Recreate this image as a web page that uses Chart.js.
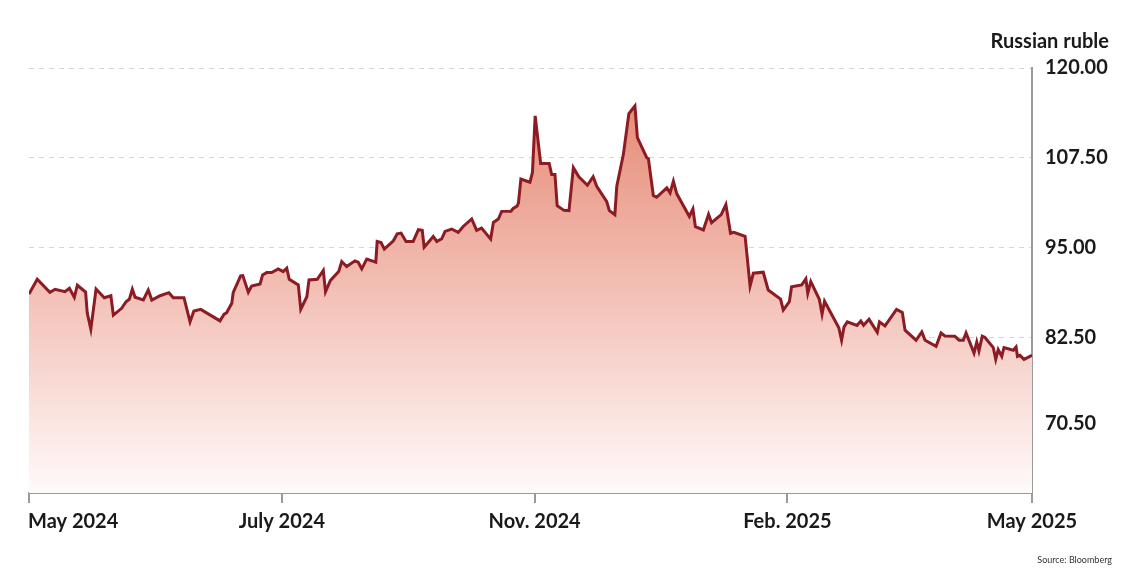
<!DOCTYPE html>
<html>
<head>
<meta charset="utf-8">
<script src="https://cdn.jsdelivr.net/npm/chart.js@4"></script>
<style>
  html, body { margin: 0; padding: 0; background: #ffffff; }
  #wrap { width: 1140px; height: 576px; position: relative; }
</style>
</head>
<body>
<div id="wrap"><canvas id="c" width="1140" height="576"></canvas></div>
<script>
// Days since 1 May 2024
const days = [0, 3.0, 7.6, 9.5, 13.1, 14.7, 16.5, 17.6, 20.6, 21.2, 22.5, 24.4, 27.4, 29.8, 30.7, 33.7, 35.3, 36.5, 37.6, 38.6,
  41.6, 43.4, 44.7, 47.7, 50.9, 52.5, 56.4, 58.6, 60.0, 62.5, 69.5, 71.0, 71.9, 73.8, 74.3, 77.0, 77.8, 79.8, 81.0, 84.1,
  85.0, 86.5, 88.3, 90.7, 92.5, 93.8, 94.7, 98.0, 98.9, 101.1, 101.9, 104.9, 107.1, 107.9, 109.7, 112.7, 113.8, 115.6, 118.6, 119.8,
  121.1, 122.9, 126.2, 126.7, 128.1, 129.3, 132.6, 134.0, 135.4, 137.2, 139.8, 141.7, 143.1, 143.8, 145.9, 147.1, 148.4, 150.2, 151.4, 153.8,
  156.2, 158.0, 161.1, 162.9, 164.7, 168.0, 169.0, 170.8, 172.0, 175.4, 176.2, 177.6, 178.1, 179.0, 182.3, 183.2, 184.2, 186.2, 189.3, 190.2,
  191.4, 192.2, 194.7, 196.5, 198.1, 200.1, 203.2, 205.3, 206.6, 210.2, 211.2, 213.2, 213.9, 216.3, 218.3, 220.5, 221.4, 224.8, 225.4, 227.2,
  228.4, 232.1, 233.3, 234.5, 235.7, 240.3, 241.6, 242.5, 245.4, 247.3, 248.4, 251.9, 253.6, 255.3, 256.5, 260.6, 262.4, 263.6, 267.2, 269.0,
  273.5, 274.5, 276.7, 277.5, 281.2, 282.7, 283.4, 284.5, 287.6, 288.6, 289.5, 294.7, 295.7, 296.6, 297.8, 301.3, 302.7, 303.7, 305.7, 308.7,
  309.5, 311.5, 315.7, 317.8, 318.8, 322.8, 324.9, 326.1, 330.1, 331.9, 333.3, 336.9, 338.5, 340.0, 341.0, 343.9, 344.9, 345.7, 346.9, 347.9,
  350.9, 351.8, 352.7, 354.0, 354.8, 358.2, 359.2, 359.7, 360.6, 362.1, 365];

// Rubles per US dollar
const rubPerUsd = [88.52, 90.57, 88.76, 89.18, 88.84, 89.32, 88.06, 89.74, 88.80, 85.86, 83.62, 89.22, 88.00, 88.28, 85.58, 86.52, 87.44, 87.78, 89.18, 88.06,
  87.68, 89.08, 87.68, 88.28, 88.70, 88.00, 88.00, 84.64, 86.14, 86.38, 84.78, 85.72, 85.90, 87.22, 88.70, 91.04, 91.08, 88.76, 89.64, 89.92,
  91.18, 91.50, 91.50, 92.02, 91.64, 92.11, 90.57, 89.78, 86.38, 88.14, 90.48, 90.57, 91.81, 88.84, 90.41, 91.64, 93.04, 92.34, 93.14, 92.95,
  92.02, 93.37, 92.95, 95.84, 95.70, 94.77, 95.93, 96.91, 97.01, 95.84, 95.84, 97.47, 97.38, 95.05, 95.98, 96.54, 95.84, 96.21, 97.24, 97.57,
  97.10, 97.93, 98.97, 97.38, 97.71, 96.17, 98.49, 98.97, 100.03, 100.06, 100.45, 100.76, 101.18, 104.54, 104.09, 105.41, 113.33, 106.71, 106.71, 105.17,
  105.17, 100.83, 100.17, 100.13, 106.11, 104.85, 103.67, 104.85, 103.53, 101.43, 100.13, 99.57, 103.53, 107.97, 113.66, 114.73, 110.30, 107.51, 107.37, 102.23,
  101.99, 103.31, 102.61, 104.23, 102.51, 99.33, 100.37, 97.89, 97.44, 99.61, 98.45, 99.57, 100.97, 96.98, 97.10, 96.54, 89.64, 91.41, 91.55, 89.08,
  87.82, 86.28, 87.44, 89.54, 89.78, 90.62, 88.62, 90.24, 87.78, 85.72, 87.51, 83.83, 82.08, 83.94, 84.63, 84.15, 84.77, 84.15, 84.99, 83.17,
  84.64, 84.08, 86.38, 85.96, 83.48, 82.08, 83.24, 82.08, 81.24, 83.10, 82.68, 82.64, 82.08, 82.08, 83.10, 80.30, 81.84, 80.58, 82.64, 82.46,
  81.06, 79.42, 80.78, 79.84, 81.06, 80.68, 81.14, 79.84, 79.98, 79.42, 79.98];

const tickDays = [0, 92, 184, 276, 365];
const tickLabels = ['May 2024', 'July 2024', 'Nov. 2024', 'Feb. 2025', 'May 2025'];
const yTicks = [70.5, 82.5, 95, 107.5, 120];
const unitLabel = 'Russian ruble';
const sourceText = 'Source: Bloomberg';

const points = days.map((d, i) => ({ x: d, y: rubPerUsd[i] }));

const textPlugin = {
  id: 'texts',
  afterDraw(chart) {
    const { ctx } = chart;
    const xs = chart.scales.x;
    ctx.save();
    ctx.fillStyle = '#1a1a1a';
    ctx.font = 'bold 20px Lato';
    ctx.textBaseline = 'alphabetic';
    xs.ticks.forEach((t, i) => {
      const px = xs.getPixelForValue(t.value);
      ctx.textAlign = i === 0 ? 'left' : 'center';
      ctx.fillText(tickLabels[i], i === 0 ? px - 1 : px, xs.top + 35);
    });
    ctx.textAlign = 'right';
    ctx.font = 'bold 20px Lato';
    ctx.fillText(unitLabel, 1109, 48);
    ctx.font = '9px Lato';
    ctx.fillStyle = '#333333';
    ctx.fillText(sourceText, 1112, 563);
    ctx.restore();
  }
};

new Chart(document.getElementById('c'), {
  type: 'line',
  data: {
    datasets: [{
      data: points,
      borderColor: '#8c1b23',
      borderWidth: 3,
      pointRadius: 0,
      tension: 0,
      fill: 'start',
      backgroundColor(context) {
        const area = context.chart.chartArea;
        if (!area) return 'rgba(240,180,170,0.5)';
        const g = context.chart.ctx.createLinearGradient(0, area.top, 0, area.bottom);
        g.addColorStop(0, '#e4826c');
        g.addColorStop(0.5, '#f2bdb2');
        g.addColorStop(1, '#fffafa');
        return g;
      }
    }]
  },
  options: {
    responsive: false,
    animation: false,
    layout: { padding: { left: 29, top: 68, right: 0, bottom: 0 } },
    plugins: { legend: { display: false }, tooltip: { enabled: false } },
    scales: {
      x: {
        type: 'linear',
        min: 0,
        max: 365,
        afterBuildTicks(scale) { scale.ticks = tickDays.map(v => ({ value: v })); },
        afterFit(scale) { scale.height = 83; },
        ticks: { display: false },
        grid: { drawOnChartArea: false, drawTicks: true, tickLength: 10, color: '#9a9a9a', lineWidth: 2 },
        border: { display: true, color: '#9a9a9a', width: 2 }
      },
      y: {
        position: 'right',
        min: 60.8,
        max: 120,
        afterBuildTicks(scale) { scale.ticks = yTicks.map(v => ({ value: v })); },
        afterFit(scale) { scale.width = 108; },
        ticks: {
          padding: 13,
          color: '#1a1a1a',
          font: { family: 'Lato', weight: 'bold', size: 20 },
          callback: v => Number(v).toFixed(2)
        },
        grid: { drawTicks: false, color: '#d6d6d6', lineWidth: 1 },
        border: { display: true, color: '#9a9a9a', width: 2, dash: [5, 5] }
      }
    }
  },
  plugins: [textPlugin]
});
</script>
</body>
</html>
